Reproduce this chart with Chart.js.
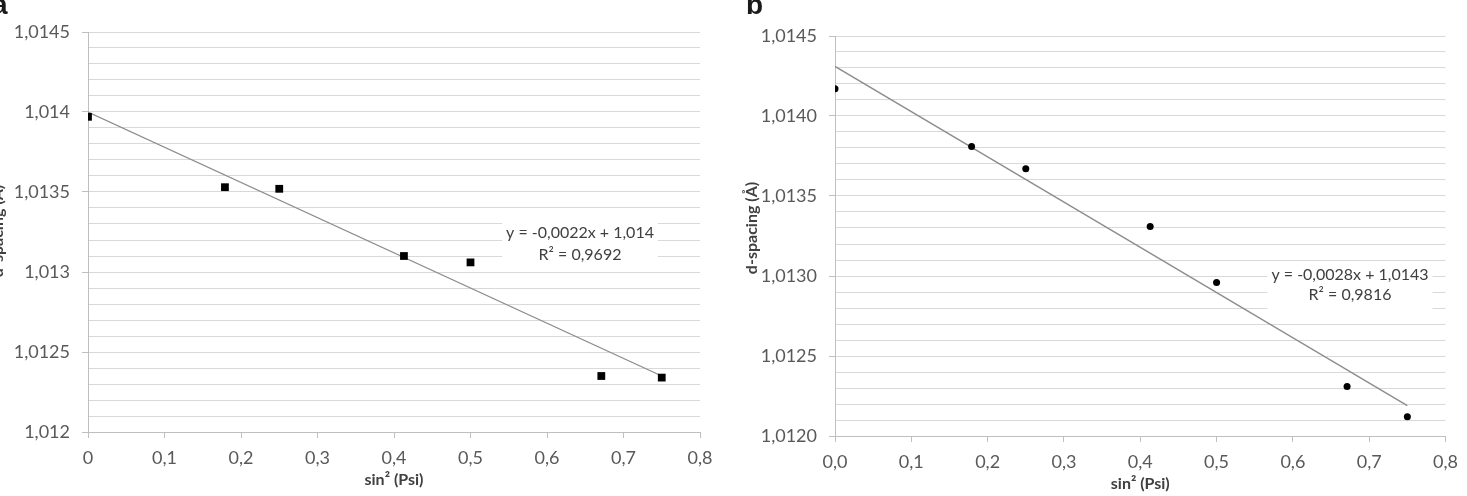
<!DOCTYPE html>
<html>
<head>
<meta charset="utf-8">
<script src="https://cdn.jsdelivr.net/npm/chart.js@4.4.1/dist/chart.umd.min.js"></script>
<style>
body { margin: 0; background: #fff; width: 1467px; height: 496px; overflow: hidden; position: relative; }
canvas { position: absolute; top: 0; }
#chartA { left: 0; }
#chartB { left: 733px; }
.panel { position: absolute; font: bold 28px "Liberation Sans", Arial, sans-serif; color: #1a1a1a; line-height: 1; }
</style>
</head>
<body>
<canvas id="chartA" width="733" height="496"></canvas>
<canvas id="chartB" width="734" height="496"></canvas>
<div class="panel" style="left:-8px; top:-9px">a</div>
<div class="panel" style="left:746px; top:-9px">b</div>

<script>
// --- Données ---
const sinPsi     = [0, 0.179, 0.25, 0.413, 0.5, 0.671, 0.75];
const dSpacingA  = [1.01397, 1.01353, 1.01352, 1.01310, 1.01306, 1.01235, 1.01234];
const dSpacingB  = [1.01417, 1.01381, 1.01367, 1.01331, 1.01296, 1.01231, 1.01212];

// droites de tendance (extrémités)
const trendX     = [0, 0.75];
const trendYA    = [1.01400, 1.01235];
const trendYB    = [1.01431, 1.01219];

const equationA  = ['y = -0,0022x + 1,014', 'R² = 0,9692'];
const equationB  = ['y = -0,0028x + 1,0143', 'R² = 0,9816'];

const xTitle     = 'sin² (Psi)';
const yTitle     = 'd-spacing (Å)';

const yMin = 1.012, yMax = 1.0145, yStep = 0.0001;
const xMin = 0, xMax = 0.8, xStep = 0.1;

Chart.defaults.font.family = 'Lato, "Open Sans", sans-serif';
Chart.defaults.font.size = 18;
Chart.defaults.color = '#595959';

// --- Titres d'axes + équation ---
const decorPlugin = {
    id: 'decor',
    beforeDatasetsDraw(chart, args, o) {
        const { ctx, chartArea: a } = chart;
        const cx = a.left + o.eqDx, cy = a.top + o.eqDy;
        ctx.save();
        ctx.font = '16px Lato, sans-serif';
        const w = Math.max(...o.equation.map(t => ctx.measureText(t).width)) + 8;
        ctx.fillStyle = '#fff';
        ctx.fillRect(cx - w / 2, cy - 13, w, 48);
        ctx.fillStyle = '#404040';
        ctx.textAlign = 'center';
        ctx.textBaseline = 'middle';
        o.equation.forEach((t, i) => ctx.fillText(t, cx, cy + i * o.eqLine));
        ctx.restore();
    },
    afterDraw(chart, args, o) {
        const { ctx, chartArea: a } = chart;
        ctx.save();
        ctx.fillStyle = '#404040';
        ctx.font = 'bold 16px Lato, sans-serif';
        ctx.textAlign = 'center';
        ctx.textBaseline = 'middle';
        ctx.fillText(xTitle, (a.left + a.right) / 2, a.bottom + 48);
        ctx.translate(a.left - o.yTitleGap, o.yTitleY);
        ctx.rotate(-Math.PI / 2);
        ctx.fillText(yTitle, 0, 0);
        ctx.restore();
    }
};

const isMajor = v => Math.round(v * 10000) % 5 === 0;

function makeChart(id, cfg) {
    return new Chart(document.getElementById(id), {
        type: 'scatter',
        data: {
            datasets: [
                {
                    data: sinPsi.map((x, i) => ({ x, y: cfg.values[i] })),
                    pointStyle: cfg.marker,
                    pointRadius: cfg.radius,
                    backgroundColor: '#000',
                    borderColor: '#000',
                    borderWidth: 0,
                    order: 0
                },
                {
                    data: trendX.map((x, i) => ({ x, y: cfg.trend[i] })),
                    showLine: true,
                    borderColor: '#8c8c8c',
                    borderWidth: 1.3,
                    pointRadius: 0,
                    order: 1
                }
            ]
        },
        options: {
            responsive: false,
            animation: false,
            layout: { padding: cfg.padding },
            plugins: {
                legend: { display: false },
                tooltip: { enabled: false },
                decor: cfg.decor
            },
            scales: {
                x: {
                    type: 'linear',
                    min: xMin, max: xMax,
                    afterFit: s => { s.height = cfg.xHeight; },
                    border: { color: '#bfbfbf' },
                    grid: { drawOnChartArea: false, tickLength: 6, tickColor: '#bfbfbf' },
                    ticks: { stepSize: xStep, padding: 9, maxRotation: 0, autoSkip: false, callback: cfg.xLabel }
                },
                y: {
                    type: 'linear',
                    min: yMin, max: yMax,
                    afterFit: s => { s.width = cfg.yWidth; },
                    border: { color: '#bfbfbf' },
                    grid: {
                        color: '#d9d9d9',
                        tickLength: 6,
                        tickColor: c => (c.tick && isMajor(c.tick.value)) ? '#bfbfbf' : 'rgba(0,0,0,0)'
                    },
                    ticks: {
                        stepSize: yStep, padding: 12, autoSkip: false,
                        callback: v => isMajor(v) ? cfg.yLabel(v) : ''
                    }
                }
            }
        },
        plugins: [decorPlugin]
    });
}

// --- Graphique a ---
makeChart('chartA', {
    values: dSpacingA, trend: trendYA,
    marker: 'rect', radius: 5.5,
    padding: { top: 32, right: 33, left: 0, bottom: 0 },
    xHeight: 64, yWidth: 88,
    xLabel: v => v === 0 ? '0' : v.toFixed(1).replace('.', ','),
    yLabel: v => String(parseFloat(v.toFixed(4))).replace('.', ','),
    decor: { equation: equationA, eqDx: 492, eqDy: 201, eqLine: 22, yTitleGap: 90, yTitleY: 231 }
});

// --- Graphique b ---
makeChart('chartB', {
    values: dSpacingB, trend: trendYB,
    marker: 'circle', radius: 3.5,
    padding: { top: 36, right: 13, left: 0, bottom: 0 },
    xHeight: 60, yWidth: 102,
    xLabel: v => v.toFixed(1).replace('.', ','),
    yLabel: v => v.toFixed(4).replace('.', ','),
    decor: { equation: equationB, eqDx: 515, eqDy: 239, eqLine: 20, yTitleGap: 83, yTitleY: 228 }
});
</script>
</body>
</html>
